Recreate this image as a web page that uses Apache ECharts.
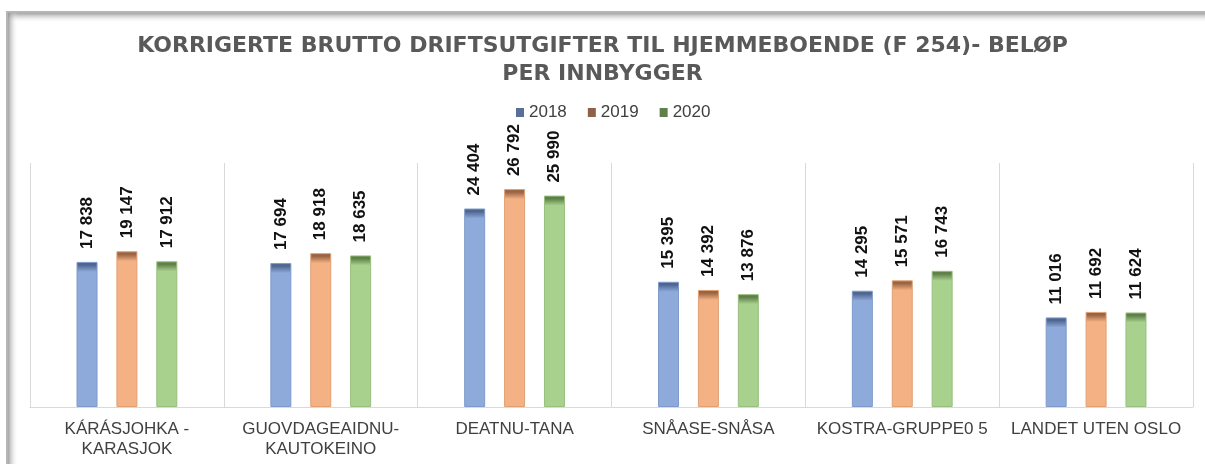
<!DOCTYPE html>
<html>
<head>
<meta charset="utf-8">
<script src="https://cdn.jsdelivr.net/npm/echarts@6/dist/echarts.min.js"></script>
<style>html,body{margin:0;padding:0;background:#fff;}#main{width:1205px;height:464px;}</style>
</head>
<body>
<div id="main"></div>
<script>
const categories = ['KÁRÁSJOHKA -\nKARASJOK', 'GUOVDAGEAIDNU-\nKAUTOKEINO', 'DEATNU-TANA', 'SNÅASE-SNÅSA', 'KOSTRA-GRUPPE0 5', 'LANDET UTEN OSLO'];
const years = ['2018', '2019', '2020'];
const values2018 = [17838, 17694, 24404, 15395, 14295, 11016];
const values2019 = [19147, 18918, 26792, 14392, 15571, 11692];
const values2020 = [17912, 18635, 25990, 13876, 16743, 11624];
const titleText = 'KORRIGERTE BRUTTO DRIFTSUTGIFTER TIL HJEMMEBOENDE (F 254)- BELØP\nPER INNBYGGER';

const palette = [
  {dark: '#4f6690', body: '#8eaadb', edge: '#7e9acb', legend: '#5a6f98'},
  {dark: '#9a6443', body: '#f4b183', edge: '#e0a074', legend: '#8d6247'},
  {dark: '#5f8049', body: '#a9d18e', edge: '#97bf7d', legend: '#60804b'}
];

const yMax = 30000;
const plotHeight = 244;

function fmt(v) {
  return String(v).replace(/\B(?=(\d{3})+(?!\d))/g, ' ');
}

function barData(vals, p) {
  return vals.map(function (v) {
    const h = v * plotHeight / yMax;
    const f = Math.min(0.3, 10 / h);
    return {
      value: v,
      itemStyle: {
        color: {
          type: 'linear', x: 0, y: 0, x2: 0, y2: 1,
          colorStops: [
            {offset: 0, color: p.dark},
            {offset: f * 0.3, color: p.dark},
            {offset: f, color: p.body},
            {offset: 1, color: p.body}
          ]
        }
      }
    };
  });
}

const seriesValues = [values2018, values2019, values2020];

const chart = echarts.init(document.getElementById('main'), null, {renderer: 'canvas'});
chart.setOption({
  backgroundColor: '#ffffff',
  animation: false,
  graphic: [
    {type: 'rect', z: -5, shape: {x: 7, y: 12, width: 1210, height: 470}, style: {fill: '#ffffff', stroke: '#b5b5b5', lineWidth: 2}},
    {type: 'rect', z: -4, shape: {x: 8, y: 13, width: 1200, height: 10},
      style: {fill: {type: 'linear', x: 0, y: 0, x2: 0, y2: 1, colorStops: [{offset: 0, color: 'rgba(140,140,140,0.8)'}, {offset: 1, color: 'rgba(255,255,255,0)'}]}}},
    {type: 'rect', z: -4, shape: {x: 8, y: 13, width: 10, height: 460},
      style: {fill: {type: 'linear', x: 0, y: 0, x2: 1, y2: 0, colorStops: [{offset: 0, color: 'rgba(140,140,140,0.8)'}, {offset: 1, color: 'rgba(255,255,255,0)'}]}}}
  ],
  title: {
    text: titleText,
    left: 'center',
    top: 27,
    textStyle: {
      fontFamily: 'DejaVu Sans',
      fontWeight: 'bold',
      fontSize: 22,
      color: '#595959',
      lineHeight: 28
    }
  },
  legend: {
    data: years.map(function (y, i) { return {name: y, itemStyle: {color: palette[i].legend, borderWidth: 0}}; }),
    top: 99,
    left: 511,
    icon: 'rect',
    itemWidth: 8,
    itemHeight: 9,
    itemGap: 21,
    textStyle: {fontFamily: 'Liberation Sans', fontSize: 17, color: '#404040'}
  },
  grid: {left: 30, right: 12, top: 163, bottom: 57, containLabel: false},
  xAxis: {
    type: 'category',
    data: categories,
    axisLine: {show: true, lineStyle: {color: '#d9d9d9', width: 1}},
    axisTick: {show: false},
    splitLine: {show: true, interval: 0, lineStyle: {color: '#d9d9d9', width: 1}},
    axisLabel: {
      interval: 0,
      margin: 12,
      fontFamily: 'Liberation Sans',
      fontSize: 17,
      lineHeight: 20,
      color: '#404040'
    }
  },
  yAxis: {
    type: 'value',
    min: 0,
    max: yMax,
    show: false,
    splitLine: {show: false}
  },
  series: years.map(function (y, i) {
    return {
      name: y,
      type: 'bar',
      barWidth: 21,
      barGap: '90%',
      color: palette[i].legend,
      data: barData(seriesValues[i], palette[i]),
      itemStyle: {borderColor: palette[i].edge, borderWidth: 1},
      label: {
        show: true,
        position: 'top',
        rotate: 90,
        align: 'left',
        verticalAlign: 'middle',
        distance: 13,
        fontFamily: 'Liberation Sans',
        fontWeight: 'bold',
        fontSize: 17,
        color: '#111111',
        formatter: function (p) { return fmt(p.value); }
      }
    };
  })
});
</script>
</body>
</html>
